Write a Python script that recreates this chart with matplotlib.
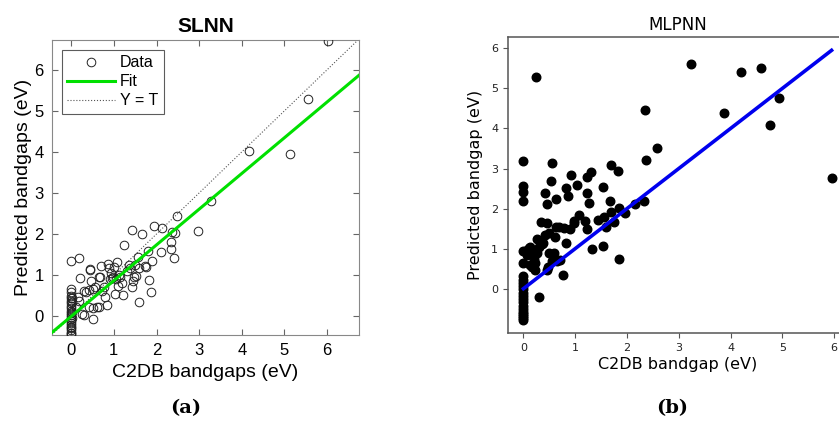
import matplotlib
matplotlib.use("Agg")
import matplotlib.pyplot as plt
import numpy as np

# SLNN panel: C2DB bandgap vs predicted bandgap (eV)
slnn_true = [
    6.03, 5.55, 4.18, 5.12, 3.28, 2.47, 2.97, 1.93, 2.12, 1.42, 1.67, 2.36, 2.43,
    1.23, 2.34, 2.34, 2.42, 2.11, 1.80, 1.56, 1.90, 1.75, 1.72, 1.83, 1.87, 1.59,
    0.00, 0.19, 0.21, 0.43, 0.45, 0.70, 0.87, 1.07, 0.68, 0.64, 0.47, 0.50, 0.34,
    0.42, 0.94, 0.99, 0.96, 0.92, 1.04, 1.15, 1.19, 1.09, 1.03, 1.22, 1.30, 1.48,
    1.52, 1.58, 1.38, 1.50, 1.42, 1.45, 0.78, 0.80, 0.84, 0.60, 0.50, 0.52, 0.29,
    0.17, 0.19, 0.11, 0.25, 0.64, 0.42, 1.00, 0.88, 0.73, 0.30, 0.55, 1.12, 1.35,
    0.00, 0.00, 0.00, 0.00, 0.00, 0.00, 0.00, 0.00, 0.00, 0.00, 0.00, 0.00, 0.00,
    0.00, 0.00, 0.00, 0.00, 0.00, 0.00, 0.00, 0.00, 0.00, 0.02, 0.02, 0.03, 0.01,
]
slnn_pred = [
    6.71, 5.28, 4.02, 3.96, 2.81, 2.44, 2.08, 2.20, 2.15, 2.10, 1.99, 2.04, 2.02,
    1.73, 1.81, 1.63, 1.42, 1.57, 1.59, 1.45, 1.34, 1.19, 1.22, 0.88, 0.58, 0.35,
    1.34, 1.41, 0.93, 1.14, 1.12, 1.22, 1.28, 1.32, 0.96, 0.96, 0.86, 0.67, 0.59,
    0.63, 1.04, 0.96, 0.93, 0.90, 0.90, 0.96, 0.80, 0.73, 0.55, 0.51, 1.10, 0.96,
    0.98, 1.16, 1.16, 1.24, 0.72, 0.85, 0.72, 0.47, 0.27, 0.23, 0.19, -0.06, 0.02,
    0.47, 0.37, 0.23, 0.05, 0.23, 0.23, 1.20, 1.18, 0.60, 0.60, 0.70, 1.00, 1.25,
    0.65, 0.58, 0.50, 0.44, 0.38, 0.31, 0.25, 0.19, 0.13, 0.08, 0.03, -0.02, -0.07,
    -0.12, -0.17, -0.22, -0.27, -0.30, -0.35, -0.40, -0.42, -0.46, 0.35, 0.10, -0.05, 0.45,
]
slnn_fit = (0.87, -0.005)  # slope, intercept

# MLPNN panel
mlp_true = [
    0.25, 3.24, 4.20, 4.58, 4.94, 3.87, 4.77, 2.34, 2.58, 2.37, 0.00, 0.00, 0.00,
    0.00, 0.56, 0.53, 0.42, 0.46, 0.62, 0.91, 0.82, 0.86, 1.04, 1.22, 1.31, 1.22,
    1.26, 1.53, 1.69, 1.83, 1.67, 2.33, 2.16, 5.95, 1.85, 1.96, 1.69, 1.56, 1.44,
    1.74, 1.59, 1.07, 1.18, 1.23, 0.97, 0.98, 0.89, 0.79, 0.69, 0.62, 0.45, 0.33,
    0.61, 0.50, 0.42, 0.38, 0.26, 0.30, 0.17, 0.12, 0.04, 0.00, 0.23, 0.17, 0.23,
    0.46, 0.48, 0.49, 0.59, 0.65, 0.55, 0.70, 0.82, 0.76, 0.31, 1.33, 1.54, 1.85,
    0.07, 0.26, 0.10, 0.20, 0.13, 0.35,
    0.00, 0.00, 0.00, 0.00, 0.00, 0.00, 0.00, 0.00, 0.00, 0.00, 0.00, 0.00, 0.00,
    0.00, 0.00, 0.00, 0.00,
]
mlp_pred = [
    5.28, 5.62, 5.42, 5.51, 4.77, 4.39, 4.09, 4.47, 3.52, 3.21, 3.18, 2.57, 2.42,
    2.18, 3.13, 2.68, 2.40, 2.11, 2.24, 2.84, 2.51, 2.32, 2.60, 2.79, 2.91, 2.38,
    2.13, 2.54, 3.08, 2.95, 2.18, 2.20, 2.11, 2.76, 2.01, 1.88, 1.92, 1.80, 1.72,
    1.67, 1.55, 1.83, 1.70, 1.49, 1.68, 1.63, 1.49, 1.52, 1.53, 1.55, 1.63, 1.66,
    1.30, 1.38, 1.33, 1.14, 1.24, 1.05, 0.93, 1.05, 0.93, 0.64, 0.64, 0.55, 0.47,
    0.47, 0.55, 0.89, 0.89, 0.70, 0.68, 0.72, 1.14, 0.34, -0.22, 0.99, 1.06, 0.75,
    0.85, 0.88, 1.01, 0.75, 0.60, 1.12,
    0.95, 0.31, 0.22, 0.14, 0.06, -0.02, -0.10, -0.18, -0.26, -0.34, -0.42, -0.50,
    -0.57, -0.63, -0.69, -0.74, -0.77,
]
mlp_fit_x = [0.0, 5.95]
mlp_fit_y = [0.0, 5.95]

fig = plt.figure(figsize=(8.39, 4.23), dpi=100)

# ---- (a) SLNN, MATLAB look ----
plt.rcParams["font.family"] = ["Liberation Sans", "DejaVu Sans"]
ax1 = fig.add_axes([0.062, 0.208, 0.366, 0.697])
xl = (-0.45, 6.75)
yl = (-0.46, 6.72)
ax1.plot(slnn_true, slnn_pred, "o", mfc="none", mec="#222222", mew=0.7,
         ms=6.2, label="Data", zorder=3)
fx = np.array(xl)
ax1.plot(fx, slnn_fit[0] * fx + slnn_fit[1], color="#00e000", lw=2.2,
         label="Fit", zorder=4)
ax1.plot(fx, fx, ":", color="#555555", lw=0.8, label="Y = T", zorder=2)
ax1.set_xlim(*xl)
ax1.set_ylim(*yl)
ax1.set_xticks(range(0, 7))
ax1.set_yticks(range(0, 7))
ax1.tick_params(direction="in", top=True, right=True, length=4,
                labelsize=12, color="#666666", pad=6)
for sp in ax1.spines.values():
    sp.set_color("#888888")
    sp.set_linewidth(0.8)
ax1.set_title("SLNN", fontsize=15, fontweight="bold", pad=6)
ax1.set_xlabel("C2DB bandgaps (eV)", fontsize=14, labelpad=4)
ax1.set_ylabel("Predicted bandgaps (eV)", fontsize=14, labelpad=2)
leg = ax1.legend(loc="upper left", fontsize=11.5, frameon=True, fancybox=False,
                 edgecolor="#333333", handlelength=3.0, borderpad=0.35,
                 labelspacing=0.25, handletextpad=0.3, borderaxespad=0.6)
leg.get_frame().set_linewidth(0.8)

# ---- (b) MLPNN, matplotlib default look ----
ax2 = fig.add_axes([0.6055, 0.2128, 0.404, 0.70])
ax2.scatter(mlp_true, mlp_pred, s=38, color="black", zorder=3)
ax2.plot(mlp_fit_x, mlp_fit_y, color="#0000ee", lw=2.6, zorder=4)
ax2.set_xlim(-0.2975, 6.2475)
ax2.set_ylim(-1.106, 6.286)
ax2.set_xticks(range(0, 7))
ax2.set_yticks(range(0, 7))
ax2.tick_params(labelsize=8, color="#555555", labelcolor="#222222")
for sp in ax2.spines.values():
    sp.set_color("#555555")
    sp.set_linewidth(1.1)
ax2.set_title("MLPNN", fontsize=12, family="DejaVu Sans", pad=5)
ax2.set_xlabel("C2DB bandgap (eV)", fontsize=11.5, family="DejaVu Sans",
               labelpad=3)
ax2.set_ylabel("Predicted bandgap (eV)", fontsize=11.5, family="DejaVu Sans",
               labelpad=6)
for lbl in ax2.get_xticklabels() + ax2.get_yticklabels():
    lbl.set_family("DejaVu Sans")

# captions
fig.text(0.221, 0.035, "(a)", ha="center", va="center", fontsize=14,
         family="DejaVu Serif", fontweight="bold")
fig.text(0.801, 0.035, "(b)", ha="center", va="center", fontsize=14,
         family="DejaVu Serif", fontweight="bold")

fig.savefig("out.png", dpi=100)
